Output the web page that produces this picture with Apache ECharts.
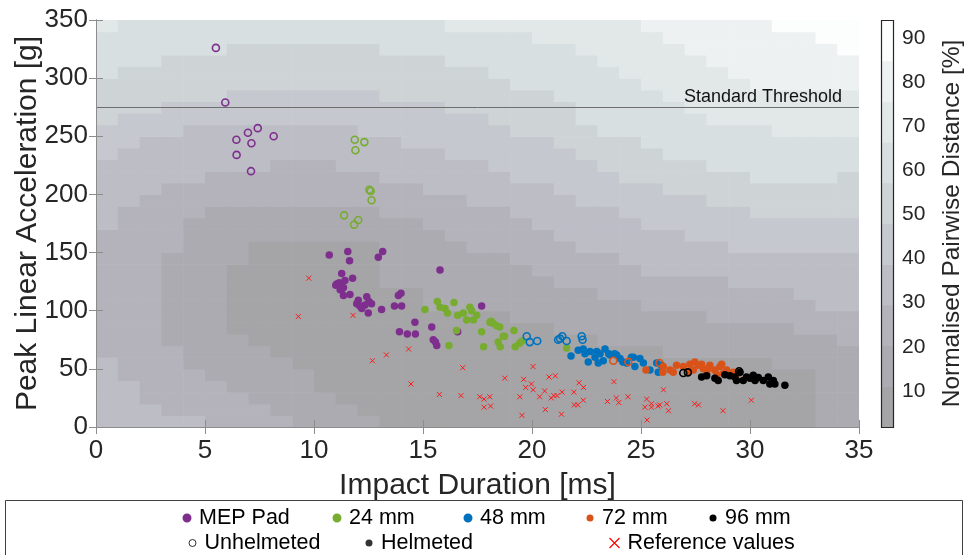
<!DOCTYPE html>
<html>
<head>
<meta charset="utf-8">
<script src="https://cdn.jsdelivr.net/npm/echarts@6.0.0/dist/echarts.min.js"></script>
<style>
html, body { margin: 0; padding: 0; background: #fff; }
#main { width: 970px; height: 555px; }
</style>
</head>
<body>
<div id="main"></div>
<script>
var myChart = echarts.init(document.getElementById('main'));

// ---- data ----
var mepUnhelmeted = [[5.50, 326], [5.93, 279], [6.44, 247], [6.45, 234], [6.97, 253], [7.13, 244], [7.42, 257], [7.11, 220], [8.15, 250]];
var mepHelmeted = [
    [10.70, 148], [11.55, 151], [11.63, 143], [12.95, 146], [13.15, 151], [15.78, 135],
    [11.27, 132], [11.77, 128], [11.42, 126], [11.04, 123], [11.16, 124], [11.00, 122], [11.31, 119], [11.20, 118],
    [11.35, 113], [11.65, 114], [11.35, 120], [12.03, 109], [12.42, 112], [12.19, 102], [11.96, 106], [12.34, 105],
    [12.49, 98], [12.64, 106], [12.52, 108], [12.10, 104], [13.10, 101], [13.69, 104], [14.02, 104], [13.87, 113],
    [13.99, 115], [14.63, 90], [13.92, 82], [14.28, 80], [14.65, 80], [15.40, 86], [15.47, 75], [15.57, 73],
    [15.63, 70], [16.59, 82], [17.69, 104]
];
var mm24Unhelmeted = [[11.87, 247], [12.31, 245], [11.90, 238], [12.54, 204], [12.60, 203], [12.64, 195], [11.38, 182], [12.03, 178], [11.84, 174]];
var mm24Helmeted = [
    [15.09, 101], [15.66, 108], [15.78, 103], [16.01, 102], [16.12, 98], [16.42, 107], [16.59, 96], [16.85, 98],
    [17.00, 92], [17.15, 103], [17.23, 100], [17.46, 96], [17.31, 92], [16.54, 83], [16.19, 70], [18.07, 90],
    [18.22, 89], [18.38, 87], [17.69, 82], [18.68, 78], [18.45, 73], [19.17, 83], [18.74, 78], [17.78, 69],
    [18.54, 69], [19.23, 69], [19.54, 74], [19.43, 72], [21.59, 68], [18.52, 86], [18.13, 91]
];
var mm48Unhelmeted = [[19.76, 78], [19.90, 73], [20.24, 74], [21.29, 76], [21.39, 78], [21.20, 75], [21.59, 74], [22.28, 78], [22.32, 75]];
var mm48Helmeted = [
    [21.79, 61], [22.12, 66], [22.35, 67], [22.43, 63], [22.66, 65], [22.89, 60], [22.97, 65], [23.12, 63],
    [23.27, 57], [23.35, 67], [23.58, 62], [23.88, 62], [24.04, 59], [24.34, 55], [24.65, 60], [24.72, 52],
    [24.95, 59], [25.11, 55], [25.41, 49], [25.72, 55], [25.79, 47], [23.04, 55], [22.58, 56], [23.79, 63],
    [24.17, 56], [24.56, 60], [25.93, 53], [23.52, 63]
];
var mm72Unhelmeted = [[23.73, 57], [24.42, 56], [25.85, 55]];
var mm72Helmeted = [
    [25.23, 49], [26.02, 52], [26.33, 49], [26.63, 53], [27.24, 54], [27.40, 49], [27.63, 53], [27.86, 50],
    [28.01, 46], [28.16, 53], [28.39, 49], [28.62, 52], [28.77, 46], [28.93, 49], [29.23, 47], [29.46, 46],
    [26.48, 47], [26.94, 52], [27.17, 47], [27.47, 56], [27.78, 54], [28.08, 50], [28.47, 45], [29.08, 46],
    [28.70, 54], [26.00, 47]
];
var mm96Unhelmeted = [[26.94, 46.5], [27.15, 47], [29.50, 48]];
var mm96Helmeted = [
    [27.78, 43], [28.54, 40], [28.85, 45], [29.08, 44], [29.31, 43], [29.54, 47], [29.69, 40], [29.84, 43],
    [30.00, 42], [30.23, 40], [30.38, 42.5], [30.61, 40], [30.84, 43], [30.91, 37], [31.07, 40], [31.14, 37],
    [31.60, 36], [29.38, 40], [30.15, 44.5], [28.39, 42], [28.01, 44]
];
var refValues = [
    [9.76, 128], [9.28, 95], [11.79, 96], [12.68, 57], [13.32, 62], [14.34, 67], [14.45, 37], [15.75, 28],
    [16.74, 27], [16.82, 51], [17.60, 26], [17.80, 24], [18.06, 26], [17.80, 17], [18.10, 18], [18.75, 42],
    [19.62, 41], [19.97, 37], [19.71, 34], [20.05, 32], [20.05, 52], [20.78, 43], [21.07, 44], [20.58, 31],
    [20.35, 26], [20.88, 25], [21.00, 27], [21.15, 27], [21.38, 30], [19.44, 26], [20.61, 15], [21.35, 11],
    [19.54, 10], [22.16, 38], [22.36, 34], [21.92, 30], [21.94, 19], [22.10, 19], [22.35, 23], [23.76, 39],
    [23.46, 22], [23.87, 25], [23.98, 21], [24.40, 26], [25.26, 24], [25.18, 17], [25.48, 20], [25.48, 17],
    [25.78, 18], [25.86, 19], [26.18, 20], [26.03, 32], [26.26, 14], [25.28, 6], [27.46, 20], [27.64, 19],
    [28.76, 14], [30.06, 23]
];
var thresholdValue = 275;

// distance field band index (0 = <10 %, 9 = >90 %), one string per 1 ms column,
// each character one 10 g row from the bottom (y = 0) up to 350
var bgCols = [
    '33333322222222222333333444555566667',
    '33332222222222222223333344455556666',
    '33222222222222222222333334455556666',
    '32222221111111122222233334445555666',
    '32222111111111111122233333445555666',
    '22221111111111111112223333445555666',
    '22211111000000111112223333444555566',
    '22111110000000001112223333444555566',
    '21111100000000001112222333444555566',
    '11111000000000001112222333444555566',
    '11100000000000001112222333444555566',
    '11000000000000001112223333444555566',
    '10000000000000001112223334444555566',
    '00000000000011111122233334445555666',
    '00000000000011111122233344445555666',
    '00000000001111111222333344445555666',
    '00000000001111112222333444455556667',
    '00000000001111122223333444455556667',
    '00000000001111122223334444555566667',
    '00000000011111222233344445555666667',
    '00000000011112222333344445555666677',
    '00000000111122223333444455556666677',
    '00000000111122233334444555666666777',
    '00000001111222233334445556666667777',
    '00000001111222333344455556666677777',
    '00000001112223333444455566666777778',
    '00000011112223333444555666667777788',
    '00000011112223334444555666677777888',
    '00000011122223334445556666777778888',
    '00000011122233344445556666777788888',
    '00000011122233344455566666777888888',
    '00000111122233344455566667777888889',
    '00000111222333344455566667777888889',
    '11111111223333344455566667777888899',
    '11111112223333344455556667777888999'
];
// colour bar: band edges [%] and tick labels
var cbEdges = [1.8, 11.0, 20.3, 29.5, 38.7, 47.9, 57.2, 66.4, 75.6, 84.9, 94.1];
var cbTicks = [10, 20, 30, 40, 50, 60, 70, 80, 90];

// ---- styles ----
var levelColors = ['#a5a5a7', '#acabb2', '#b4b3bb', '#bcbdc5', '#c5c8ce', '#ced4d6', '#d8dfe0', '#e2e8e8', '#edf1f1', '#fcfdfd'];
var groupColors = {
    'MEP Pad': '#7E2F8E',
    '24 mm': '#77AC30',
    '48 mm': '#0072BD',
    '72 mm': '#D95319',
    '96 mm': '#000000'
};
var axisGray = '#8c8c8c';
var textDark = '#262626';
var crossPath = 'path://M0,0L10,10M10,0L0,10';
var cellW = 1, cellH = 10;

var bgData = [];
bgCols.forEach(function (col, i) {
    col.split('').forEach(function (ch, j) {
        bgData.push([i * cellW, j * cellH, +ch]);
    });
});
var cbData = cbEdges.slice(0, -1).map(function (lo, i) {
    return [lo, cbEdges[i + 1], i];
});

function renderCell(params, api) {
    var a = api.coord([api.value(0), api.value(1) + cellH]);
    var b = api.coord([api.value(0) + cellW, api.value(1)]);
    return {
        type: 'rect',
        silent: true,
        shape: { x: a[0], y: a[1], width: b[0] - a[0] + 0.6, height: b[1] - a[1] + 0.6 },
        style: { fill: levelColors[api.value(2)] }
    };
}

function renderBand(params, api) {
    var a = api.coord([0, api.value(1)]);
    var b = api.coord([1, api.value(0)]);
    return {
        type: 'rect',
        silent: true,
        shape: { x: a[0], y: a[1], width: b[0] - a[0], height: b[1] - a[1] + 0.6 },
        style: { fill: levelColors[api.value(2)] }
    };
}

function renderFrame(params, api) {
    var a = api.coord([0, api.value(1)]);
    var b = api.coord([1, api.value(0)]);
    return {
        type: 'rect',
        silent: true,
        shape: { x: Math.round(a[0]) + 0.5, y: Math.round(a[1]) + 0.5, width: Math.round(b[0] - a[0]), height: Math.round(b[1] - a[1]) },
        style: { fill: 'none', stroke: textDark, lineWidth: 1.2 }
    };
}

function filledSeries(name, data) {
    return {
        name: name, type: 'scatter', data: data, z: 4,
        symbol: 'circle', symbolSize: 7.5,
        itemStyle: { color: groupColors[name], opacity: 1 }
    };
}
function hollowSeries(name, data) {
    return {
        name: name, type: 'scatter', data: data, z: 4,
        symbol: 'circle', symbolSize: 7,
        itemStyle: { color: 'rgba(0,0,0,0)', borderColor: groupColors[name], borderWidth: 1.6, opacity: 1 }
    };
}

var mainTick = { inside: true, length: 7, lineStyle: { color: axisGray } };
var mainLine = { show: true, lineStyle: { color: axisGray, width: 1 } };

// legend: one component per entry, placed like the original box
var legendItems = [
    { name: 'MEP Pad', x: 186, y: 518, icon: 'circle', style: { color: '#7E2F8E' } },
    { name: '24 mm', x: 336, y: 518, icon: 'circle', style: { color: '#77AC30' } },
    { name: '48 mm', x: 467, y: 518, icon: 'circle', style: { color: '#0072BD' } },
    { name: '72 mm', x: 590, y: 518, icon: 'circle', style: { color: '#D95319' } },
    { name: '96 mm', x: 713, y: 518, icon: 'circle', style: { color: '#000000' } },
    { name: 'Unhelmeted', x: 192, y: 543, icon: 'circle', style: { color: 'rgba(0,0,0,0)', borderColor: '#000', borderWidth: 1 } },
    { name: 'Helmeted', x: 369, y: 543, icon: 'circle', style: { color: '#000000' } },
    { name: 'Reference values', x: 612, y: 543, icon: crossPath, w: 10, h: 13, gap: 13, style: { color: 'none', borderColor: '#ff0000', borderWidth: 1.2 } }
];
var legends = legendItems.map(function (it) {
    var w = it.w || 7, h = it.h || 7, gap = it.gap || 12;
    return {
        data: [{ name: it.name, icon: it.icon, itemStyle: it.style }],
        left: it.x - w / 2, top: it.y - 11,
        padding: 0, itemGap: 0, itemWidth: w, itemHeight: h,
        selectedMode: false,
        textStyle: { fontSize: 21.5, color: '#000', padding: [0, 0, 0, gap - w / 2 - 5] }
    };
});

var option = {
    backgroundColor: '#fff',
    animation: false,
    textStyle: { fontFamily: 'Liberation Sans, Arial, sans-serif' },
    grid: [
        { left: 96, top: 20, width: 763, height: 407, outerBoundsMode: 'none' },
        { left: 881, top: 20, width: 12, height: 407, outerBoundsMode: 'none' }
    ],
    graphic: [{
        type: 'rect', z: 0,
        shape: { x: 5.5, y: 500.5, width: 957, height: 80 },
        style: { fill: '#fff', stroke: '#404040', lineWidth: 1 }
    }],
    legend: legends,
    xAxis: [{
        type: 'value', min: 0, max: 35, interval: 5, z: 10,
        axisLine: mainLine, axisTick: mainTick, splitLine: { show: false },
        axisLabel: { color: textDark, fontSize: 26, margin: 11 },
        name: 'Impact Duration [ms]', nameLocation: 'middle', nameGap: 44, nameMoveOverlap: false,
        nameTextStyle: { fontSize: 30, color: textDark }
    }, {
        type: 'value', position: 'top', min: 0, max: 35, interval: 5, z: 10,
        axisLine: mainLine, axisTick: mainTick, splitLine: { show: false },
        axisLabel: { show: false }
    }, {
        gridIndex: 1, type: 'value', min: 0, max: 1, show: false
    }],
    yAxis: [{
        type: 'value', min: 0, max: 350, interval: 50, z: 10,
        axisLine: mainLine, axisTick: mainTick, splitLine: { show: false },
        axisLabel: { color: textDark, fontSize: 26, margin: 8 },
        name: 'Peak Linear Acceleration [g]', nameLocation: 'middle', nameGap: 53, nameMoveOverlap: false,
        nameTextStyle: { fontSize: 30, color: textDark }
    }, {
        type: 'value', position: 'right', min: 0, max: 350, interval: 50, z: 10,
        axisLine: mainLine, axisTick: mainTick, splitLine: { show: false },
        axisLabel: { show: false }
    }, {
        gridIndex: 1, type: 'value', position: 'right', min: 1.8, max: 94.1,
        axisLine: { show: false }, axisTick: { show: false }, splitLine: { show: false },
        axisLabel: { customValues: cbTicks, color: textDark, fontSize: 21, margin: 9 },
        name: 'Normalised Pairwise Distance [%]', nameLocation: 'middle', nameGap: 47, nameMoveOverlap: false,
        nameTextStyle: { fontSize: 24.5, color: textDark }
    }],
    series: [
        {
            name: 'field', type: 'custom', renderItem: renderCell, data: bgData,
            xAxisIndex: 0, yAxisIndex: 0, z: 1, clip: true, silent: true
        },
        {
            name: 'colourbar', type: 'custom', renderItem: renderBand, data: cbData,
            xAxisIndex: 2, yAxisIndex: 2, z: 1, silent: true
        },
        {
            name: 'colourbarFrame', type: 'custom', renderItem: renderFrame, data: [[cbEdges[0], cbEdges[cbEdges.length - 1]]],
            xAxisIndex: 2, yAxisIndex: 2, z: 2, silent: true
        },
        {
            name: 'Reference values', type: 'scatter', data: refValues, z: 3,
            symbol: crossPath, symbolSize: 5,
            itemStyle: { color: 'none', borderColor: '#ff1a1a', borderWidth: 1, opacity: 1 },
            markLine: {
                silent: true, symbol: 'none', animation: false,
                lineStyle: { color: '#6e6e6e', width: 1, type: 'solid' },
                label: {
                    position: 'insideEndTop', formatter: 'Standard Threshold',
                    fontSize: 18, color: '#111', distance: [17, 1]
                },
                data: [{ yAxis: thresholdValue }]
            }
        },
        hollowSeries('MEP Pad', mepUnhelmeted),
        filledSeries('MEP Pad', mepHelmeted),
        hollowSeries('24 mm', mm24Unhelmeted),
        filledSeries('24 mm', mm24Helmeted),
        hollowSeries('48 mm', mm48Unhelmeted),
        filledSeries('48 mm', mm48Helmeted),
        filledSeries('72 mm', mm72Helmeted),
        hollowSeries('72 mm', mm72Unhelmeted),
        filledSeries('96 mm', mm96Helmeted),
        hollowSeries('96 mm', mm96Unhelmeted),
        { name: 'Unhelmeted', type: 'scatter', data: [] },
        { name: 'Helmeted', type: 'scatter', data: [] }
    ]
};

myChart.setOption(option);
</script>
</body>
</html>
